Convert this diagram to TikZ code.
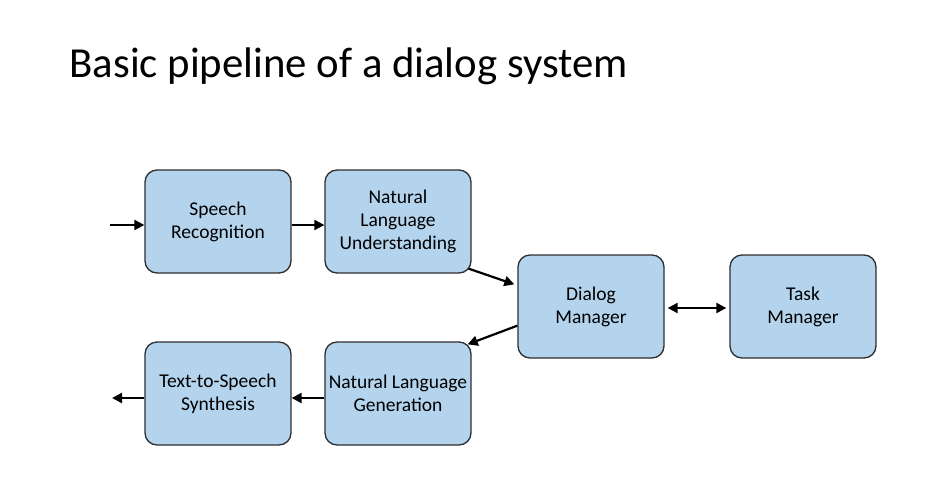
\documentclass[tikz,border=0pt]{standalone}
\usepackage{fontspec}
\setmainfont{Carlito}
\usetikzlibrary{arrows.meta}
\definecolor{boxfill}{HTML}{B4D4EE}
\definecolor{boxline}{HTML}{2E2E2E}
\tikzset{
  stagebox/.style={draw=boxline, fill=boxfill, line width=1.3pt, rounded corners=12pt,
    minimum width=146pt, minimum height=103pt, align=center, inner sep=2pt,
    font=\fontsize{19.5}{23}\selectfont},
  flow/.style={line width=2.2pt, -{Triangle[length=10pt,width=10pt]}},
  flowboth/.style={line width=2.2pt, {Triangle[length=10pt,width=10pt]}-{Triangle[length=10pt,width=10pt]}}
}
\begin{document}
\begin{tikzpicture}[x=1pt,y=-1pt]
\useasboundingbox (0,0) rectangle (934,498);
\node[anchor=base west, font=\fontsize{42.8}{50}\selectfont] (title) at (66,77) {Basic pipeline of a dialog system};
\node[stagebox] (sr) at (218,221.5) {Speech\\Recognition};
\node[stagebox] (nlu) at (398,221.5) {Natural\\Language\\Understanding};
\node[stagebox] (dm) at (591,306.5) {Dialog\\Manager};
\node[stagebox] (tm) at (803,306.5) {Task\\Manager};
\node[stagebox] (nlg) at (398,393.5) {Natural Language\\Generation};
\node[stagebox] (tts) at (218,393.5) {Text-to-Speech\\Synthesis};
\coordinate (in) at (110,225);
\coordinate (out) at (112,398);
\draw[flow] (in) -- (sr.west |- in);
\draw[flow] (sr.east |- in) -- (nlu.west |- in);
\draw[flow] ([xshift=-3pt,yshift=5pt]nlu.south east) -- ([xshift=-3pt,yshift=-30pt]dm.north west);
\draw[flow] ([yshift=33pt]dm.south west) -- ([xshift=-4pt,yshift=-3pt]nlg.north east);
\draw[flowboth] ([xshift=3pt]dm.east |- 0,308) -- ([xshift=-3pt]tm.west |- 0,308);
\draw[flow] (nlg.west |- out) -- (tts.east |- out);
\draw[flow] (tts.west |- out) -- (out);
\end{tikzpicture}
\end{document}
